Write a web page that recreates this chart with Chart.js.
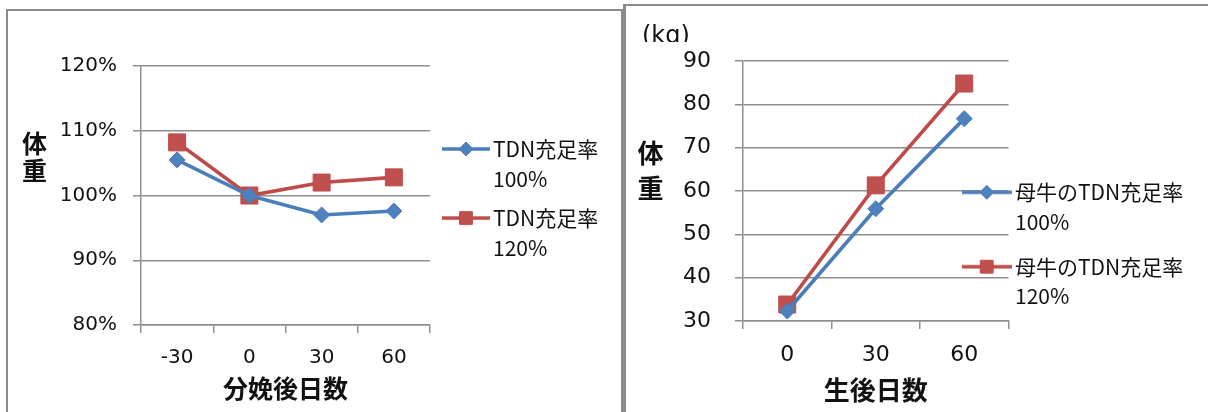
<!DOCTYPE html>
<html>
<head>
<meta charset="utf-8">
<script src="https://cdn.jsdelivr.net/npm/chart.js@4.4.1/dist/chart.umd.min.js"></script>
<style>
  html, body { margin: 0; padding: 0; background: #fff; width: 1208px; height: 412px; overflow: hidden; }
  .frame { position: absolute; box-sizing: border-box; border: 2px solid #8b8b8b; }
  #frameL { left: 6px; top: 9px; width: 617px; height: 430px; }
  #frameR { left: 623px; top: 4px; width: 600px; height: 430px; border-left-width: 3px; }
  canvas { position: absolute; top: 0; }
  #cL { left: 0; }
  #cR { left: 624px; }
</style>
</head>
<body>
<div class="frame" id="frameL"></div>
<div class="frame" id="frameR"></div>
<canvas id="cL" width="620" height="412"></canvas>
<canvas id="cR" width="584" height="412"></canvas>
<script>
// ---- dam body weight relative to calving day (%) ----
const calvingDays = ['-30', '0', '30', '60'];
const damTdn100 = [105.5, 100, 97.0, 97.6];
const damTdn120 = [108.2, 100, 102.0, 102.8];
const pctTicks = [80, 90, 100, 110, 120];
const damXTitle = '分娩後日数';
const damLegend = ['TDN充足率\n100%', 'TDN充足率\n120%'];

// ---- calf body weight (kg) ----
const ageDays = ['0', '30', '60'];
const calfTdn100 = [32.3, 55.9, 76.7];
const calfTdn120 = [33.8, 61.3, 84.8];
const kgTicks = [30, 40, 50, 60, 70, 80, 90];
const calfXTitle = '生後日数';
const calfLegend = ['母牛のTDN充足率\n100%', '母牛のTDN充足率\n120%'];

const weightTitle = '体重';
const unitLabel = '(kg)';

const cjk = '"Noto Sans CJK JP", "Noto Sans CJK SC", sans-serif';
const num = '"DejaVu Sans", "Noto Sans CJK JP", sans-serif';
const gridGray = '#8e8e8e';
const ink = '#111';
const blueLine = '#4a7ebb', blueFill = '#4f81bd';
const redLine = '#be4b48', redFill = '#c0504d';

Chart.defaults.font.family = cjk;
Chart.defaults.color = ink;

// legend glyph: a short series line with its marker in the middle
function legendGlyph(width, style, radius, line, fill) {
  const c = document.createElement('canvas');
  c.width = width;
  c.height = Math.ceil(radius * 2 + 6);
  const g = c.getContext('2d');
  const cy = c.height / 2;
  g.strokeStyle = line;
  g.lineWidth = 3.5;
  g.beginPath();
  g.moveTo(0, cy);
  g.lineTo(width, cy);
  g.stroke();
  g.fillStyle = fill;
  g.strokeStyle = line;
  g.lineWidth = 1;
  Chart.helpers.drawPoint(g, { pointStyle: style, radius: radius, borderWidth: 1, rotation: 0 }, width / 2, cy);
  return c;
}

// stacked (upright) axis caption and free text
const captions = {
  id: 'captions',
  afterDraw(chart, args, opts) {
    const ctx = chart.ctx;
    (opts.items || []).forEach(it => {
      ctx.save();
      if (it.clipBottom) {
        ctx.beginPath();
        ctx.rect(0, 0, chart.width, it.clipBottom);
        ctx.clip();
      }
      ctx.fillStyle = ink;
      ctx.font = it.font;
      ctx.textAlign = it.align || 'center';
      ctx.textBaseline = 'middle';
      it.lines.forEach((s, i) => ctx.fillText(s, it.x, it.y + i * (it.step || 0)));
      ctx.restore();
    });
  }
};

// put the legend box beside the plot
const legendAnchor = {
  id: 'legendAnchor',
  afterLayout(chart, args, opts) {
    const lg = chart.legend;
    if (!lg) return;
    const w = lg.width + 40;
    lg.left = opts.left;
    lg.top = opts.top;
    lg.right = opts.left + w;
    lg.width = w;
    lg.bottom = opts.top + 260;
    lg.height = 260;
  }
};

function legendOptions(glyphs, boxWidth, padding, lineHeight) {
  return {
    position: 'chartArea',
    align: 'start',
    labels: {
      usePointStyle: true,
      pointStyleWidth: boxWidth,
      boxWidth: boxWidth,
      boxHeight: 20,
      padding: padding,
      color: ink,
      font: { family: cjk, size: 21, lineHeight: lineHeight },
      generateLabels(chart) {
        const items = Chart.defaults.plugins.legend.labels.generateLabels(chart);
        items.forEach((it, i) => {
          it.text = String(it.text).split('\n');
          it.pointStyle = glyphs[i];
        });
        return items;
      }
    }
  };
}

function series(label, data, style, radius, line, fill) {
  return {
    label: label,
    data: data,
    borderColor: line,
    backgroundColor: fill,
    borderWidth: 3.6,
    tension: 0,
    pointStyle: style,
    pointRadius: radius,
    pointHoverRadius: radius,
    pointBorderColor: line,
    pointBackgroundColor: fill,
    pointBorderWidth: 1
  };
}

function categoryAxis(title, tickSize, titleSize, titlePad, height, tickPad) {
  return {
    type: 'category',
    offset: true,
    grid: { display: true, drawOnChartArea: false, drawTicks: true, tickLength: 8, offset: true, color: gridGray, lineWidth: 1.5 },
    border: { display: true, color: gridGray, width: 1.5 },
    ticks: { color: ink, font: { family: num, size: tickSize }, padding: tickPad, maxRotation: 0, autoSkip: false },
    title: { display: true, text: title, color: ink, font: { family: cjk, size: titleSize, weight: 'bold' }, padding: { top: 0, bottom: titlePad } },
    afterFit(scale) { scale.height = height; }
  };
}

function valueAxis(values, fmt, tickSize, tickPad, width) {
  return {
    min: values[0],
    max: values[values.length - 1],
    afterBuildTicks(scale) { scale.ticks = values.map(v => ({ value: v })); },
    ticks: { color: ink, font: { family: num, size: tickSize }, padding: tickPad, callback: fmt },
    grid: { color: gridGray, lineWidth: 1.5, tickLength: 8, drawTicks: true },
    border: { display: true, color: gridGray, width: 1.5 },
    afterFit(scale) { scale.width = width; }
  };
}

// ---------- dam chart ----------
const damGlyphs = [
  legendGlyph(48, 'rectRot', 7, blueLine, blueFill),
  legendGlyph(48, 'rect', 9, redLine, redFill)
];
new Chart(document.getElementById('cL'), {
  type: 'line',
  data: {
    labels: calvingDays,
    datasets: [
      series(damLegend[0], damTdn100, 'rectRot', 8, blueLine, blueFill),
      series(damLegend[1], damTdn120, 'rect', 12, redLine, redFill)
    ]
  },
  options: {
    responsive: false,
    animation: false,
    events: [],
    layout: { padding: { top: 66, right: 190, bottom: 0, left: 0 } },
    scales: {
      x: categoryAxis(damXTitle, 20, 25, 9, 87, 13),
      y: valueAxis(pctTicks, v => v + '%', 20, 16, 141)
    },
    plugins: {
      legend: legendOptions(damGlyphs, 33, 9, 1.43),
      tooltip: { enabled: false },
      legendAnchor: { left: 440.5, top: 129.5 },
      captions: {
        items: [
          { lines: weightTitle.split(''), x: 34.5, y: 143.5, step: 27, font: 'bold 25px ' + cjk }
        ]
      }
    }
  },
  plugins: [legendAnchor, captions]
});

// ---------- calf chart ----------
const calfGlyphs = [
  legendGlyph(50, 'rectRot', 7, blueLine, blueFill),
  legendGlyph(50, 'rect', 9, redLine, redFill)
];
new Chart(document.getElementById('cR'), {
  type: 'line',
  data: {
    labels: ageDays,
    datasets: [
      series(calfLegend[0], calfTdn100, 'rectRot', 8, blueLine, blueFill),
      series(calfLegend[1], calfTdn120, 'rect', 12, redLine, redFill)
    ]
  },
  options: {
    responsive: false,
    animation: false,
    events: [],
    layout: { padding: { top: 61, right: 199.5, bottom: 0, left: 0 } },
    scales: {
      x: categoryAxis(calfXTitle, 22, 26, 6.4, 91, 13),
      y: valueAxis(kgTicks, v => String(v), 22, 24, 119)
    },
    plugins: {
      legend: legendOptions(calfGlyphs, 35.6, 15.6, 1.4),
      tooltip: { enabled: false },
      legendAnchor: { left: 329.3, top: 166.2 },
      captions: {
        items: [
          { lines: weightTitle.split(''), x: 26.5, y: 153, step: 35, font: 'bold 26px ' + cjk },
          { lines: [unitLabel], x: 18, y: 37, align: 'left', font: '24px ' + num, clipBottom: 42 }
        ]
      }
    }
  },
  plugins: [legendAnchor, captions]
});
</script>
</body>
</html>
